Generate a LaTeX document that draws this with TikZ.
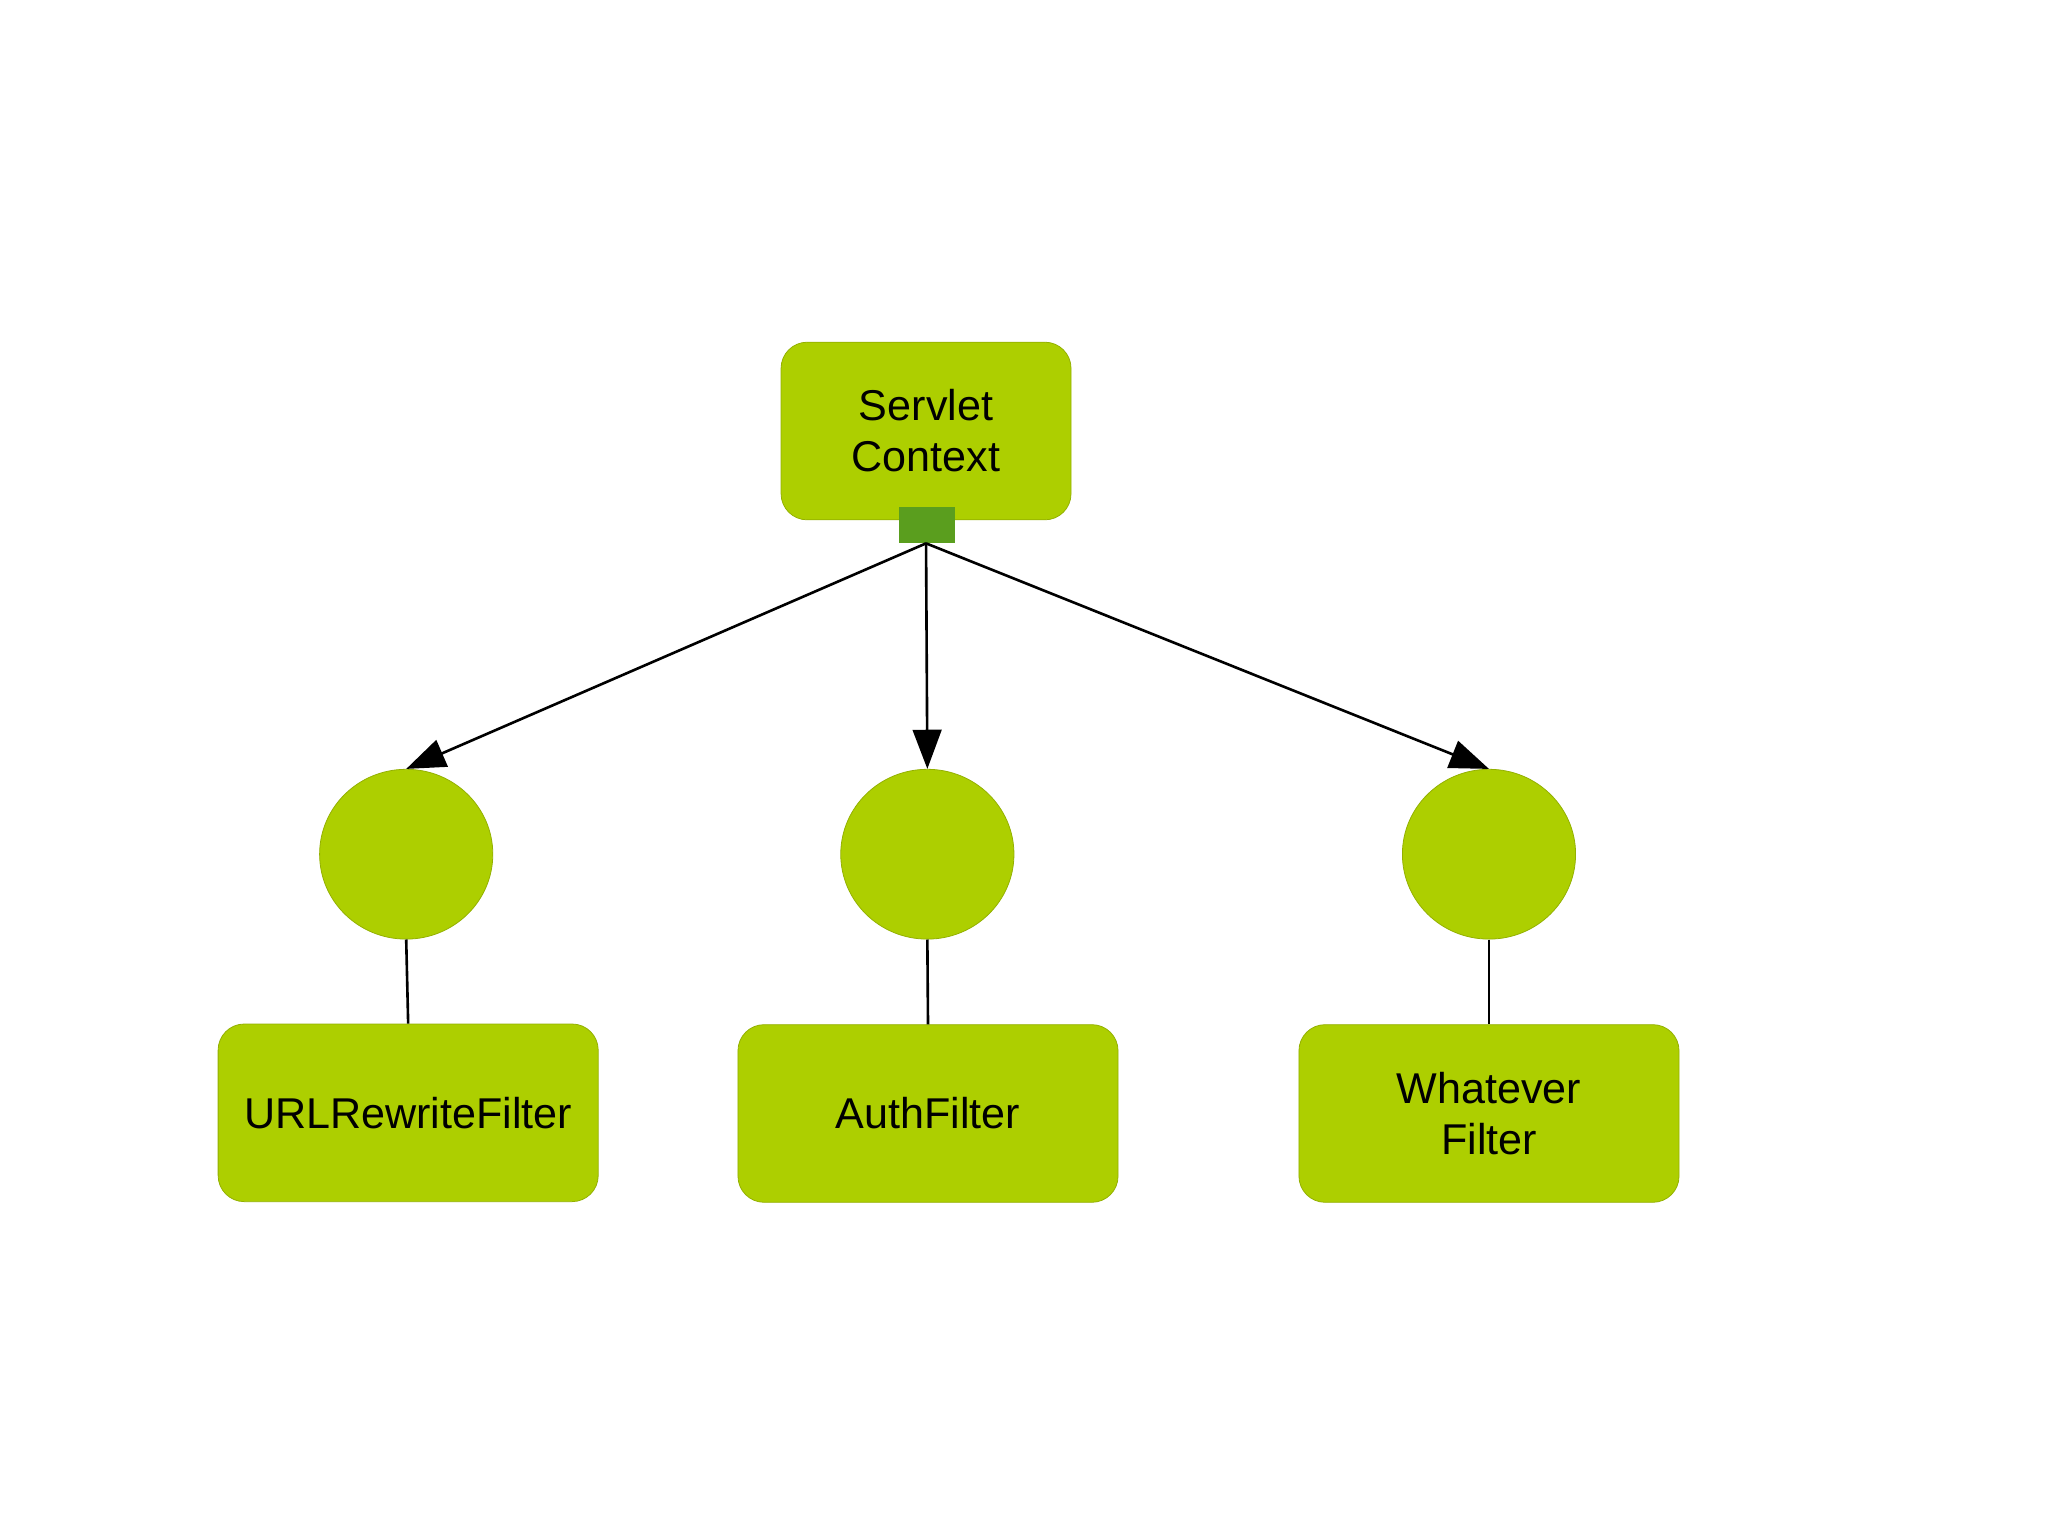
\documentclass[tikz,border=0pt]{standalone}
\usepackage{fontspec}
\setmainfont{Liberation Sans}
\usetikzlibrary{arrows.meta}
\definecolor{lime}{HTML}{ADCF00}
\definecolor{portgreen}{HTML}{5A9E1E}
\begin{document}
\begin{tikzpicture}[x=1pt,y=-1pt,
  box/.style={draw=lime!85!black,line width=0.6pt,fill=lime,rounded corners=20pt,minimum width=291pt,minimum height=136pt,align=center,font=\fontsize{33}{39}\selectfont,inner sep=0pt},
  circ/.style={draw=lime!85!black,line width=0.6pt,fill=lime,ellipse,minimum width=132pt,minimum height=128pt,inner sep=0pt},
  conn/.style={line width=2pt,black},
  arr/.style={conn,-{Triangle[length=30pt,width=22pt]}}]
\useasboundingbox (0,0) rectangle (1568,1177);
\node[box,minimum width=222pt] (sc) at (709,330) {Servlet\\Context};
\node[fill=portgreen,minimum width=43pt,minimum height=28pt,inner sep=0pt] (port) at (709.5,402) {};
\coordinate (src) at (709,416);
\node[circle,fill=lime,draw=lime!85!black,line width=0.6pt,minimum size=130pt,xscale=1.02,inner sep=0pt] (c1) at (311,654) {};
\node[circle,fill=lime,draw=lime!85!black,line width=0.6pt,minimum size=130pt,xscale=1.02,inner sep=0pt] (c2) at (710,654) {};
\node[circle,fill=lime,draw=lime!85!black,line width=0.6pt,minimum size=130pt,xscale=1.02,inner sep=0pt] (c3) at (1140,654) {};
\node[box] (f1) at (312.5,852) {URLRewriteFilter};
\node[box] (f2) at (710.5,852.5) {AuthFilter};
\node[box] (f3) at (1140,852.5) {Whatever\\Filter};
\draw[arr] (src) -- (c1.north);
\draw[arr] (src) -- (c2.north);
\draw[arr] (src) -- (c3.north);
\draw[conn] (c1.south) -- (f1.north);
\draw[conn] (c2.south) -- (f2.north);
\draw[conn] (c3.south) -- (f3.north);
\end{tikzpicture}
\end{document}
